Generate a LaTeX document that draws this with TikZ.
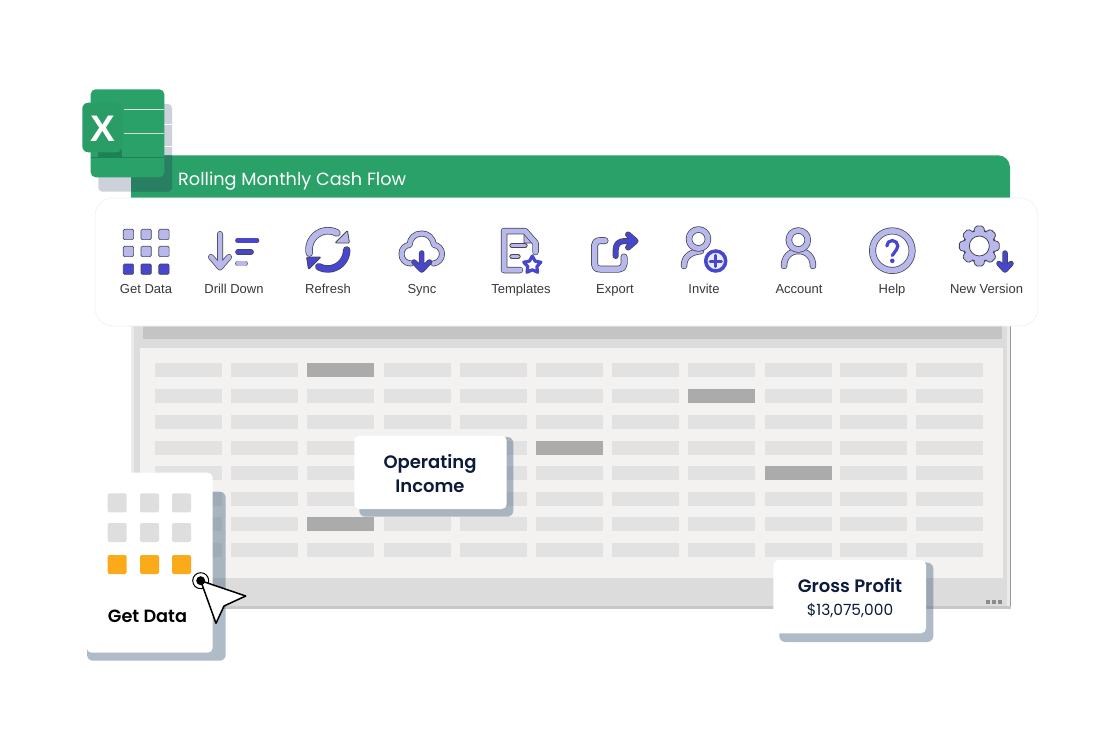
\documentclass[tikz,border=0pt]{standalone}
\usepackage{fontspec}
\setmainfont{Liberation Sans}
\newfontfamily\pop{Poppins}
\newfontfamily\popm{Poppins Medium}
\newfontfamily\popsb{Poppins SemiBold}
\definecolor{exgreen}{HTML}{2AA168}
\definecolor{exgreenb}{HTML}{2A9D66}
\definecolor{exdark}{HTML}{1F7F55}
\definecolor{exover}{HTML}{287F62}
\definecolor{wingrey}{HTML}{DCDCDC}
\definecolor{barcol}{HTML}{C4C4C4}
\definecolor{sheet}{HTML}{F3F2F0}
\definecolor{cell}{HTML}{E2E2E2}
\definecolor{cellhi}{HTML}{ABABAB}
\definecolor{icl}{HTML}{B9B8EC}
\definecolor{icd}{HTML}{4646CF}
\definecolor{ico}{HTML}{45454F}
\definecolor{navy}{HTML}{0D1B3A}
\definecolor{orange}{HTML}{FBAA1A}
\definecolor{tile}{HTML}{DEDEDE}
\definecolor{shadowc}{HTML}{4A6580}
\definecolor{logoshadow}{HTML}{21375B}
\tikzset{
  tbl/.style={font=\fontsize{13}{15}\selectfont, text=black!78, inner sep=0pt, anchor=base},
  cardtitle/.style={font=\popsb\fontsize{18}{23.5}\selectfont, text=navy, align=center, inner sep=0pt},
  cardshadow/.style={fill=shadowc, fill opacity=.44, rounded corners=6pt},
  cardwhite/.style={fill=white, rounded corners=5pt},
  sq/.style={draw=ico, line width=.7pt, rounded corners=1.2pt},
  stk/.style={line cap=round, line join=round},
}
% stroked icon line with a dark rim: width, colour, path
\newcommand\rim[3]{%
  \draw[stk, draw=ico, line width=#1+1.5pt] #3;
  \draw[stk, draw=#2, line width=#1] #3;}
\begin{document}
\begin{tikzpicture}[x=1pt,y=-1pt]
\useasboundingbox (0,0) rectangle (1108,754);
\fill[white] (0,0) rectangle (1108,754);

% --- window
\fill[black!40] (132,300) rectangle (1011,608);
\fill[black!22] (132,606) rectangle (1011,609);
\fill[wingrey] (131,190) rectangle (1010,605.5);
\fill[black!8] (1006.5,190) rectangle (1010,605.5);
\fill[black!8] (131,190) rectangle (134,605.5);
\fill[barcol] (142.5,326) rectangle (1002,339);
\fill[sheet] (140,347.7) rectangle (1003,578);
\fill[black!45] (986,600) rectangle +(4,3.5);
\fill[black!45] (992,600) rectangle +(4,3.5);
\fill[black!45] (998,600) rectangle +(3.5,3.5);

% --- cells
\foreach \x in {155,231,307,384,460,536,612,688,765,840,916}
  \foreach \y in {363,389,415,440.5,466,491.5,517,543}
    \fill[cell] (\x,\y) rectangle +(67,14);
\foreach \x/\y in {307/363,688/389,536/440.5,765/466,307/517}
  \fill[cellhi] (\x,\y) rectangle +(67,14);

% --- header
\fill[exgreen] (131,198) -- (131,155.3) -- (998,155.3) arc[start angle=270,end angle=360,radius=12] -- (1010,198) -- cycle;
\node[font=\pop\fontsize{17.7}{20}\selectfont, text=white, anchor=base west, inner sep=0pt] (title) at (178,186) {Rolling Monthly Cash Flow};

% --- excel logo
\fill[logoshadow, fill opacity=.225, rounded corners=4pt] (98.3,104) rectangle (172,191.7);
\fill[white] (164,124) rectangle (172,125);
\fill[white] (164,146.5) rectangle (172,147.5);
\fill[exover] (131,155.3) -- (172,155.3) -- (172,187.7) arc[start angle=0,end angle=90,radius=4] -- (131,191.7) -- cycle;
\fill[exgreen, rounded corners=5pt] (90.7,89.3) rectangle (164.3,177.3);
\fill[exdark] (98,148) rectangle (122,158);
\draw[black!12, line width=.8pt] (124,109.3) -- (164,109.3);
\draw[black!15, line width=.8pt] (124,133.3) -- (164,133.3);
\draw[exdark, line width=.8pt] (90.7,157.3) -- (164.3,157.3);
\fill[exgreenb, rounded corners=6pt] (82.3,102.7) rectangle (122.3,152.3);
\node[font=\bfseries\fontsize{37}{37}\selectfont, text=white, inner sep=0pt] (xmark) at (103.3,128.3) {X};

% --- toolbar
\draw[fill=white, draw=black!6, line width=.6pt, rounded corners=18pt] (95,198) rectangle (1038,326);

% Get Data icon
\foreach \x in {123.3,141,158.8} \foreach \y in {229.3,246.3}
  \filldraw[sq, fill=icl] (\x,\y) rectangle +(10.3,10.3);
\foreach \x in {123.3,141,158.8}
  \filldraw[sq, fill=icd] (\x,264) rectangle +(10.3,10.3);
\node[tbl] (lgetdata) at (146,293.5) {Get Data};

% Drill Down icon
\rim{4.5pt}{icl}{(220,234) -- (220,267) (211,257) -- (220,267.5) -- (229,257)}
\rim{4.2pt}{icd}{(238,240.5) -- (256.5,240.5)}
\rim{4.2pt}{icd}{(238,252) -- (251,252)}
\rim{4.2pt}{icl}{(238,263.5) -- (245,263.5)}
\node[tbl] (ldrill) at (234,293.5) {Drill Down};

% Refresh icon
\rim{6pt}{icl}{(309.3,253) arc[start angle=170,end angle=298,radius=19]}
\filldraw[draw=ico, fill=icl, line width=.8pt, line join=round, rounded corners=1pt] (335,243) -- (349.5,243) -- (347.5,230.5) -- cycle;
\rim{6pt}{icd}{(346.7,250) arc[start angle=0,end angle=118,radius=19]}
\filldraw[draw=ico, fill=icd, line width=.8pt, line join=round, rounded corners=1pt] (321,257) -- (306.5,257) -- (308.5,269.5) -- cycle;
\node[tbl] (lrefresh) at (328,293) {Refresh};

% Sync icon
\rim{4.5pt}{icl}{(411,263.5) .. controls (405,263.5) and (401.5,259) .. (401.5,254) .. controls (401.5,248.5) and (405.5,245) .. (409.5,245) .. controls (410,238) and (415,233.5) .. (421.7,233.5) .. controls (428,233.5) and (433,238) .. (434,245) .. controls (438,245) and (442,249) .. (442,254) .. controls (442,259) and (438,263) .. (433.5,263.5)}
\rim{4pt}{icd}{(421.7,253) -- (421.7,269) (414,262) -- (421.7,270) -- (429.5,262)}
\node[tbl] (lsync) at (422,293.5) {Sync};

% Templates icon
\filldraw[draw=ico, fill=icl, line width=.7pt, line join=round] (524,230) -- (537,243) -- (524,243) -- cycle;
\rim{5pt}{icl}{(520,270) -- (504,270) -- (504,231) -- (525,231) -- (535.5,243) -- (535.5,252)}
\rim{3.8pt}{icl}{(512,245.5) -- (525,245.5)}
\rim{3.8pt}{icl}{(512,256.5) -- (518,256.5)}
\begin{scope}[shift={(532.3,265)}]
  \filldraw[draw=icd, fill=white, line width=3.2pt, line join=round]
    (-90:9) \foreach \a in {-54,-18,...,234} { -- ({\a}:{ifthenelse(mod(\a+54,72)==0,4.8,9)}) } -- cycle;
\end{scope}
\node[tbl] (ltempl) at (521,293.5) {Templates};

% Export icon
\rim{5.5pt}{icl}{(605,240.7) -- (600,240.7) .. controls (596,240.7) and (594.5,243) .. (594.5,246) -- (594.5,264) .. controls (594.5,267) and (596,269) .. (600,269) -- (619,269) .. controls (622,269) and (624,267) .. (624,264) -- (624,257)}
\rim{4.5pt}{icd}{(615.7,256) -- (615.7,250) .. controls (615.7,244) and (619,241) .. (625,241) -- (635,241) (628,234.5) -- (635.5,241) -- (628,247.5)}
\node[tbl] (lexport) at (615,293.5) {Export};

% Invite icon
\rim{5pt}{icl}{(684,266) .. controls (684,257) and (690,252) .. (701,251)}
\rim{5pt}{icl}{(698.5,239) circle[radius=9.5]}
\filldraw[draw=icd, fill=white!70!icl, line width=3.5pt] (715.7,261) circle[radius=10];
\draw[icd, line width=3pt, line cap=round] (710,261) -- (721.4,261) (715.7,255.3) -- (715.7,266.7);
\node[tbl] (linvite) at (704,293.5) {Invite};

% Account icon
\rim{5pt}{icl}{(784,266) .. controls (784,257) and (790,251) .. (798.5,251) .. controls (807,251) and (813,257) .. (813,266)}
\rim{5pt}{icl}{(798.3,240) circle[radius=9.5]}
\node[tbl] (laccount) at (799,293.5) {Account};

% Help icon
\rim{5.5pt}{icl}{(892.3,250.7) circle[radius=19.8]}
\draw[icd, line width=3.2pt, line cap=round] (886.8,246) arc[start angle=180,end angle=400,radius=5.5] -- (892.3,255.5);
\fill[icd] (892.3,260.8) circle[radius=2.3];
\node[tbl] (lhelp) at (892,293.5) {Help};

% New Version icon
\begin{scope}[shift={(979.3,246)}]
  \filldraw[draw=ico, fill=icl, line width=.8pt, line join=round, rounded corners=1.5pt, even odd rule]
    (-21:15.5) \foreach \a in {0,45,...,315} { -- ({\a-21}:15.5) -- ({\a-11}:20.3) -- ({\a+11}:20.3) -- ({\a+21}:15.5) } -- cycle
    (0,0) circle[radius=10];
\end{scope}
\rim{4pt}{icd}{(1005,253) -- (1005,269) (999,263.5) -- (1005,270) -- (1011,263.5)}
\node[tbl] (lnew) at (986.5,293.5) {New Version};

% --- Get Data card
\fill[cardshadow] (87,491.7) rectangle (225.7,660.7);
\fill[cardwhite] (86.7,472.7) rectangle (212.7,652.7);
\foreach \x in {107.7,140,172} \foreach \y in {493.3,523}
  \fill[tile, rounded corners=2pt] (\x,\y) rectangle +(19,19);
\foreach \x in {107.7,140,172}
  \fill[orange, rounded corners=2pt] (\x,555) rectangle +(19,19);
\node[font=\popsb\fontsize{17.7}{20}\selectfont, text=black, inner sep=0pt] (cgetdata) at (147.5,616) {Get Data};
\draw[black, fill=white, line width=1pt] (200.7,580.7) circle[radius=8];
\filldraw[draw=black, fill=white, line width=1.5pt, line join=round] (200.7,580.7) -- (245.7,596) -- (224,606) -- (216,623.3) -- cycle;
\fill[black] (200.7,580.7) circle[radius=4.5];

% --- Operating Income card
\fill[cardshadow] (359.3,437) rectangle (513.3,516.7);
\fill[cardwhite] (354.3,435.7) rectangle (506.7,509);
\node[cardtitle] (opinc) at (430,473.5) {Operating\\Income};

% --- Gross Profit card
\fill[cardshadow] (779.3,562.7) rectangle (933.3,642);
\fill[cardwhite] (773.3,560) rectangle (926,633.3);
\node[cardtitle] (gross) at (850,586) {Gross Profit};
\node[font=\pop\fontsize{15.4}{17}\selectfont, text=navy, inner sep=0pt] (amount) at (850,611) {\$13,075,000};
\end{tikzpicture}
\end{document}
